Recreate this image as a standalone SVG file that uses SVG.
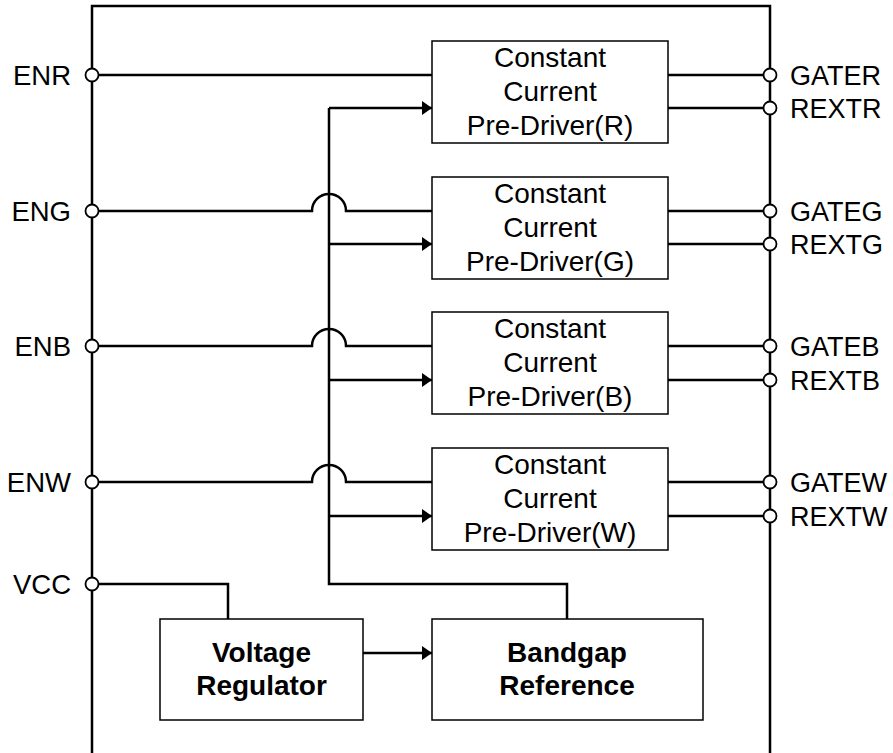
<svg xmlns="http://www.w3.org/2000/svg" width="893" height="753" viewBox="0 0 893 753">
<style>
.w{fill:none;stroke:#000;stroke-width:2.5}
.bx{fill:#fff;stroke:#000;stroke-width:1.5}
.pin{fill:#fff;stroke:#000;stroke-width:1.8}
.t{font-family:"Liberation Sans",Arial,sans-serif;font-size:28px;fill:#000;text-anchor:middle}
.b{font-weight:bold}
.l{font-family:"Liberation Sans",Arial,sans-serif;font-size:27.5px;fill:#000;text-anchor:end}
.r{font-family:"Liberation Sans",Arial,sans-serif;font-size:27px;fill:#000;text-anchor:start}
</style>
<defs>
<marker id="ah" markerWidth="10" markerHeight="14" refX="10" refY="7" orient="auto" markerUnits="userSpaceOnUse">
<path d="M0,0 L10,7 L0,14 Z" fill="#000"/>
</marker>
</defs>
<g id="package">
<path class="w" d="M92,753 V6 H770 V753"/>
</g>
<g id="connectors">
<path class="w" d="M99,75 H432"/>
<path class="w" d="M99,211 H312 A17,17 0 0 1 346,211 H432"/>
<path class="w" d="M99,346 H312 A17,17 0 0 1 346,346 H432"/>
<path class="w" d="M99,482 H312 A17,17 0 0 1 346,482 H432"/>
<path class="w" d="M329,108 V584 H567 V619"/>
<path class="w" d="M329,108 H432" marker-end="url(#ah)"/>
<path class="w" d="M329,244 H432" marker-end="url(#ah)"/>
<path class="w" d="M329,380 H432" marker-end="url(#ah)"/>
<path class="w" d="M329,516 H432" marker-end="url(#ah)"/>
<path class="w" d="M668,75 H763 M668,108 H763"/>
<path class="w" d="M668,211 H763 M668,244 H763"/>
<path class="w" d="M668,346 H763 M668,380 H763"/>
<path class="w" d="M668,482 H763 M668,516 H763"/>
<path class="w" d="M99,584 H228 V619"/>
<path class="w" d="M363,653 H432" marker-end="url(#ah)"/>
</g>
<g id="pins-left">
<circle class="pin" cx="92" cy="75" r="6.5"/><text class="l" x="71" y="84.5">ENR</text>
<circle class="pin" cx="92" cy="211" r="6.5"/><text class="l" x="71" y="220.5">ENG</text>
<circle class="pin" cx="92" cy="346" r="6.5"/><text class="l" x="71" y="355.5">ENB</text>
<circle class="pin" cx="92" cy="482" r="6.5"/><text class="l" x="71" y="491.5">ENW</text>
<circle class="pin" cx="92" cy="584" r="6.5"/><text class="l" x="71" y="593.5">VCC</text>
</g>
<g id="pins-right">
<circle class="pin" cx="770" cy="75" r="6.5"/><text class="r" x="790" y="84.5">GATER</text>
<circle class="pin" cx="770" cy="108" r="6.5"/><text class="r" x="790" y="117.5">REXTR</text>
<circle class="pin" cx="770" cy="211" r="6.5"/><text class="r" x="790" y="220.5">GATEG</text>
<circle class="pin" cx="770" cy="244" r="6.5"/><text class="r" x="790" y="253.5">REXTG</text>
<circle class="pin" cx="770" cy="346" r="6.5"/><text class="r" x="790" y="355.5">GATEB</text>
<circle class="pin" cx="770" cy="380" r="6.5"/><text class="r" x="790" y="389.5">REXTB</text>
<circle class="pin" cx="770" cy="482" r="6.5"/><text class="r" x="790" y="491.5">GATEW</text>
<circle class="pin" cx="770" cy="516" r="6.5"/><text class="r" x="790" y="525.5">REXTW</text>
</g>
<g id="driver-r">
<rect class="bx" x="432" y="41" width="236" height="102"/>
<text class="t" x="550" y="67">Constant</text><text class="t" x="550" y="101">Current</text><text class="t" x="550" y="135">Pre-Driver(R)</text>
</g>
<g id="driver-g">
<rect class="bx" x="432" y="177" width="236" height="102"/>
<text class="t" x="550" y="203">Constant</text><text class="t" x="550" y="237">Current</text><text class="t" x="550" y="271">Pre-Driver(G)</text>
</g>
<g id="driver-b">
<rect class="bx" x="432" y="312" width="236" height="102"/>
<text class="t" x="550" y="338">Constant</text><text class="t" x="550" y="372">Current</text><text class="t" x="550" y="406">Pre-Driver(B)</text>
</g>
<g id="driver-w">
<rect class="bx" x="432" y="448" width="236" height="102"/>
<text class="t" x="550" y="474">Constant</text><text class="t" x="550" y="508">Current</text><text class="t" x="550" y="542">Pre-Driver(W)</text>
</g>
<g id="regulator">
<rect class="bx" x="160" y="619" width="203" height="101"/>
<text class="t b" x="261.5" y="662">Voltage</text><text class="t b" x="261.5" y="695">Regulator</text>
</g>
<g id="bandgap">
<rect class="bx" x="432" y="619" width="271" height="101"/>
<text class="t b" x="567" y="662">Bandgap</text><text class="t b" x="567" y="695">Reference</text>
</g>
</svg>
